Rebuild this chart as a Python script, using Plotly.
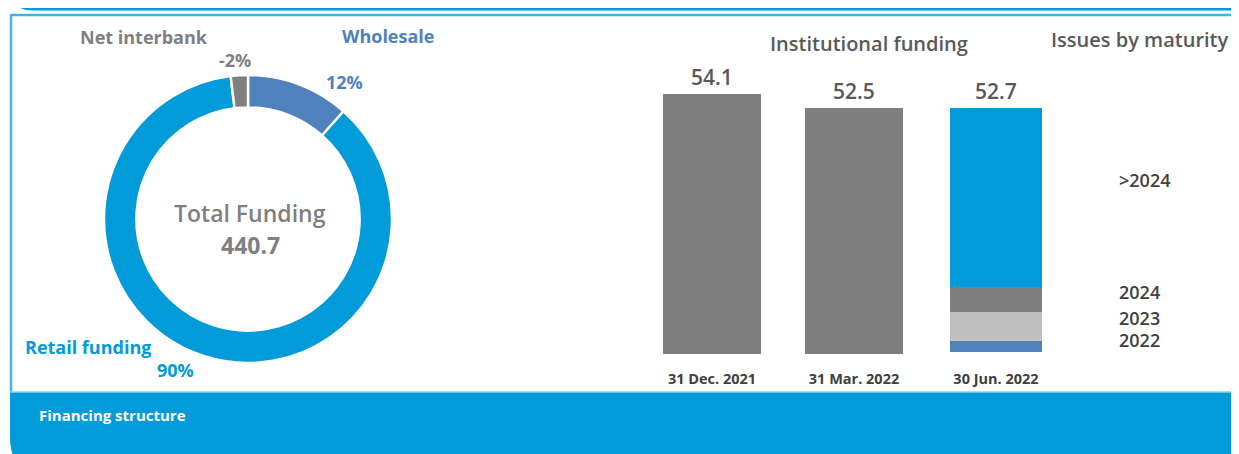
import plotly.graph_objects as go

# the page body has an 8px margin, so the figure is drawn 8px in from the top-left
OFF = 8
FW, FH = 1231, 446

# donut data (share of total funding, %)
fund_labels = ["Wholesale", "Retail funding", "Net interbank"]
fund_shares = [12, 90, -2]
fund_colors = ["#4f81bd", "#009bd8", "#7f7f7f"]
total_funding = 440.7

# institutional funding bars
dates = ["31 Dec. 2021", "31 Mar. 2022", "30 Jun. 2022"]
inst_totals = [54.1, 52.5, 52.7]

# maturity split of the last bar
maturities = ["2022", "2023", "2024", ">2024"]
maturity_vals = [2.4, 6.2, 5.4, 38.7]
maturity_colors = ["#4f81bd", "#bfbfbf", "#7f7f7f", "#009bd8"]

BLUE = "#009bd8"
FONT = "Open Sans"


def X(sx):
    # screen pixel -> paper x
    return (sx - OFF) / FW


def Y(sy):
    # screen pixel -> paper y
    return 1 - (sy - OFF) / FH


fig = go.Figure()

# donut
fig.add_trace(go.Pie(
    labels=fund_labels,
    values=[abs(v) for v in fund_shares],
    hole=0.775,
    sort=False,
    direction="clockwise",
    rotation=0,
    marker=dict(colors=fund_colors, line=dict(color="white", width=2.5)),
    textinfo="none",
    hoverinfo="skip",
    showlegend=False,
    domain=dict(x=[X(104), X(392)], y=[Y(363), Y(75)]),
))

# first two bars on a truncated axis
fig.add_trace(go.Bar(
    x=dates[:2], y=inst_totals[:2],
    marker=dict(color="#7f7f7f", line=dict(width=0)),
    width=0.69, xaxis="x", yaxis="y",
    showlegend=False, hoverinfo="skip",
))

# stacked maturity bar
for name, val, col in zip(maturities, maturity_vals, maturity_colors):
    fig.add_trace(go.Bar(
        x=[dates[2]], y=[val], name=name,
        marker=dict(color=col, line=dict(width=0)),
        width=0.65, xaxis="x", yaxis="y2",
        showlegend=False, hoverinfo="skip",
    ))


def txt(sx, sy, text, size, color, weight="normal", xanchor="center"):
    return dict(x=X(sx), y=Y(sy), xref="paper", yref="paper", text=text,
                xanchor=xanchor, yanchor="middle", showarrow=False,
                font=dict(family=FONT, size=size, color=color, weight=weight))


ann = []

# donut labels
label_pos = {
    "Net interbank": ((144, 37), (235, 60)),
    "Wholesale": ((388, 36), (344, 82)),
    "Retail funding": ((88, 347), (175, 370)),
}
for lab, share, col in zip(fund_labels, fund_shares, fund_colors):
    (lx, ly), (vx, vy) = label_pos[lab]
    ann.append(txt(lx, ly, lab, 18, col, "bold"))
    ann.append(txt(vx, vy, f"{share}%", 18, col, "bold"))

ann.append(txt(250, 213, "Total Funding", 23, "#7f7f7f", 600))
ann.append(txt(250, 245, f"{total_funding}", 23, "#7f7f7f", "bold"))

# bar totals
for i, (d, v) in enumerate(zip(dates, inst_totals)):
    ann.append(dict(x=d, y=v, xref="x", yref="y" if i < 2 else "y2", text=f"{v}",
                    xanchor="center", yanchor="middle", showarrow=False, yshift=17,
                    font=dict(family=FONT, size=21, color="#595959", weight=600)))

# titles
ann.append(txt(869, 43, "Institutional funding", 20, "#595959", 600))
ann.append(txt(1140, 40, "Issues by maturity", 20, "#595959", 600))

# maturity labels
mat_label_y = [340, 318, 292, 180]
for name, ly in zip(maturities, mat_label_y):
    ann.append(txt(1117, ly, name, 18, "#404040", 600, xanchor="left"))

ann.append(txt(37, 415, "Financing structure", 15, "white", "bold", xanchor="left"))

# frame shapes
shapes = []
# top band with rounded lower corners
shapes.append(dict(
    type="path", xref="paper", yref="paper",
    path=(f"M {X(5)},{Y(-10)} L {X(1245)},{Y(-10)} L {X(1245)},{Y(10.5)} "
          f"L {X(34)},{Y(10.5)} Q {X(20)},{Y(10.5)} {X(15)},{Y(4)} Z"),
    fillcolor=BLUE, line=dict(width=0), layer="above"))
# thin light line and left border
shapes.append(dict(type="line", xref="paper", yref="paper",
                   x0=X(10), x1=X(1245), y0=Y(15), y1=Y(15),
                   line=dict(color="#3db5e6", width=2.5)))
shapes.append(dict(type="line", xref="paper", yref="paper",
                   x0=X(11), x1=X(11), y0=Y(15), y1=Y(393),
                   line=dict(color="#3db5e6", width=2.5)))
# bottom band
shapes.append(dict(
    type="path", xref="paper", yref="paper",
    path=(f"M {X(10)},{Y(392)} L {X(1250)},{Y(392)} L {X(1250)},{Y(470)} "
          f"L {X(30)},{Y(470)} Q {X(10)},{Y(465)} {X(10)},{Y(437)} Z"),
    fillcolor=BLUE, line=dict(width=0), layer="above"))
shapes.append(dict(type="line", xref="paper", yref="paper",
                   x0=X(10), x1=X(1250), y0=Y(392), y1=Y(392),
                   line=dict(color="#8fd0ee", width=1.5)))

fig.update_layout(
    width=FW, height=FH,
    margin=dict(l=0, r=0, t=0, b=0),
    paper_bgcolor="white", plot_bgcolor="white",
    barmode="stack",
    xaxis=dict(domain=[X(641), X(1067)], range=[-0.5, 2.5], type="category",
               categoryorder="array", categoryarray=dates,
               showgrid=False, zeroline=False, showline=False, ticks="",
               tickfont=dict(family=FONT, size=14.5, color="#404040", weight="bold"),
               ticklabelstandoff=14, fixedrange=True),
    yaxis=dict(domain=[Y(354), Y(60)], range=[24.39, 57.99], visible=False, fixedrange=True),
    yaxis2=dict(domain=[Y(354), Y(60)], range=[-0.43, 63.07], overlaying="y",
                visible=False, fixedrange=True),
    annotations=ann,
    shapes=shapes,
    font=dict(family=FONT),
)

fig.write_html("out.html")
